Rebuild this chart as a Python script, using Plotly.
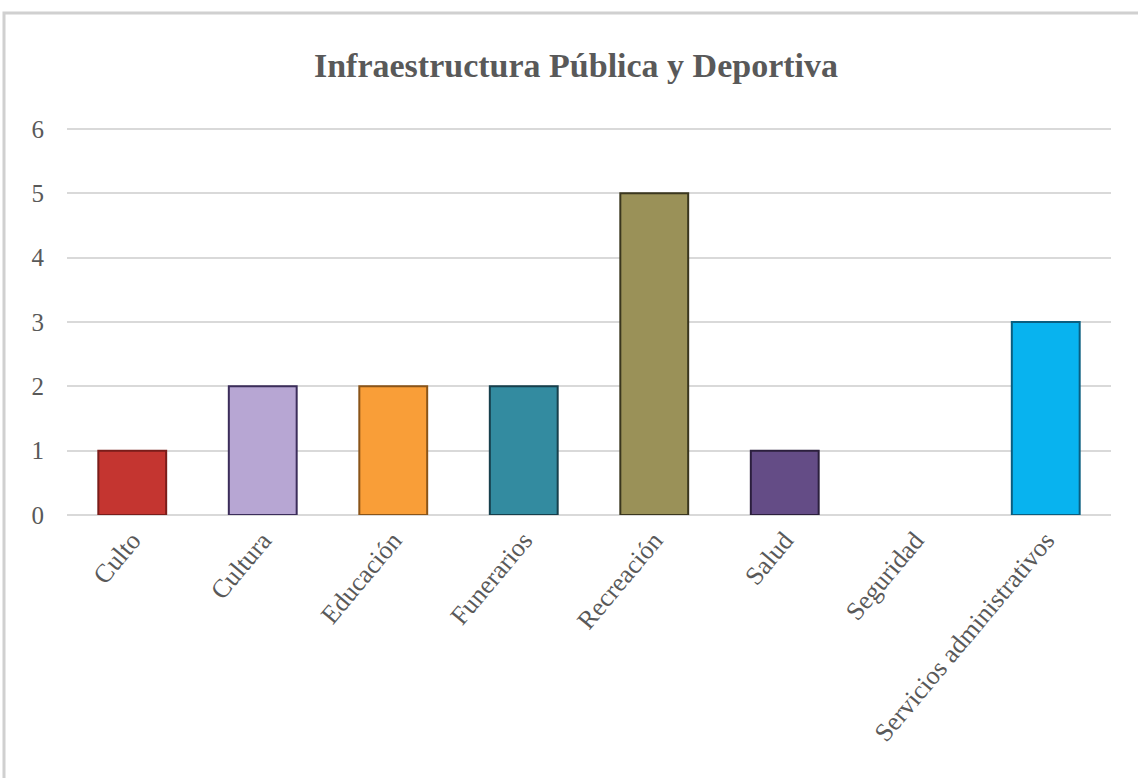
import plotly.graph_objects as go

categories = ["Culto", "Cultura", "Educación", "Funerarios", "Recreación", "Salud", "Seguridad", "Servicios administrativos"]
values = [1, 2, 2, 2, 5, 1, 0, 3]
bar_colors = ["#c43530", "#b7a6d3", "#f99e38", "#338ba0", "#9a9158", "#644c86", "rgba(0,0,0,0)", "#08b3ef"]
edge_colors = ["#7a1d1a", "#3b2d5a", "#8a5418", "#163f4c", "#3a361e", "#2b1f3d", "rgba(0,0,0,0)", "#0a5e80"]
edge_widths = [2, 2, 2, 2, 2, 2, 0, 2]
title_text = "Infraestructura Pública y Deportiva"

fig = go.Figure()
fig.add_trace(go.Bar(
    x=categories, y=values,
    marker=dict(color=bar_colors, line=dict(color=edge_colors, width=edge_widths)),
    showlegend=False,
))

L, R, B = 67, 1111, 515
YMAX = 6.03
T = int(round(B - YMAX * (515 - 129) / 6))
W, H = R - L, B - T

fig.update_layout(
    width=1138, height=778,
    margin=dict(l=L, r=1138 - R, t=T, b=778 - B, autoexpand=False),
    paper_bgcolor="white", plot_bgcolor="white",
    bargap=0.48,
    font=dict(family="Liberation Serif, Times New Roman, serif", color="#595959", size=24),
    title=dict(text="<b>" + title_text + "</b>", x=576 / 1138, xanchor="center",
               y=1 - 65 / 778, yanchor="middle",
               font=dict(size=34, color="#595959", family="Liberation Serif, Times New Roman, serif")),
    xaxis=dict(tickangle=-50, showgrid=False, showline=False, ticks="",
               ticklabelstandoff=4,
               tickfont=dict(size=26, color="#595959")),
    yaxis=dict(range=[0, YMAX], dtick=1, showgrid=True, gridcolor="#d9d9d9", gridwidth=2,
               zeroline=True, zerolinecolor="#d9d9d9", zerolinewidth=2,
               showline=False, ticks="", ticklabelstandoff=22,
               tickfont=dict(size=25, color="#595959")),
    shapes=[dict(type="rect", xref="paper", yref="paper",
                 x0=(4 - L) / W, x1=(1150 - L) / W,
                 y0=(B - 790) / H, y1=(B - 13) / H,
                 line=dict(color="#d0d0d0", width=3), layer="below")],
)

fig.write_html("out.html", config={"displayModeBar": False},
               post_script="document.body.style.margin='0px';")
